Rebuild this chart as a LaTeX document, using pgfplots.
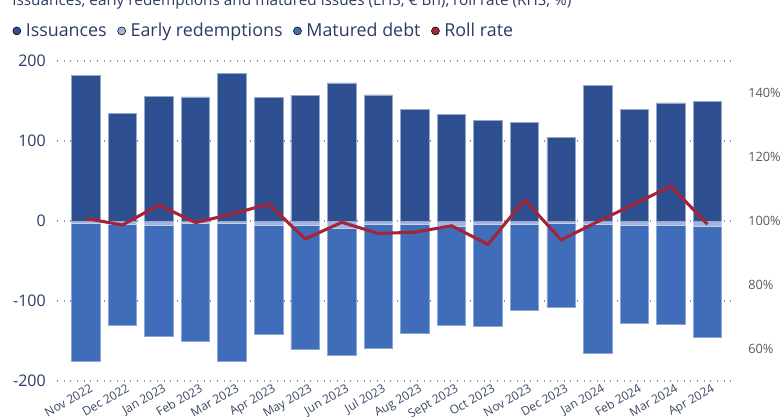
\documentclass[border=0pt]{standalone}
\usepackage{pgfplots}
\pgfplotsset{compat=1.18}
\usepackage{pgfplotstable}
\usepackage{fontspec}
\setmainfont{Open Sans}
\definecolor{issc}{HTML}{2E5090}
\definecolor{matc}{HTML}{3F6DBA}
\definecolor{earc}{HTML}{A3B3DF}
\definecolor{rollc}{HTML}{A52437}
\definecolor{gridc}{HTML}{8391BC}
\definecolor{navy}{HTML}{2B3A67}
\definecolor{xlab}{HTML}{3B4766}
\definecolor{rlab}{HTML}{5A5A5A}
\pgfplotstableread{
x iss early mat roll
0 181.6 -3 -172 100.8
1 134 -4 -127 98.75
2 156 -5 -139 105.0
3 155 -3 -148 99.5
4 184 -3 -172 102.2
5 154 -5 -137 105.3
6 157 -6 -155 94.4
7 172.5 -9 -159 99.6
8 157.5 -4 -155 96.1
9 139 -4 -136 96.5
10 133 -7 -124 98.5
11 126 -4 -128 92.7
12 123 -4 -108 106.6
13 104.6 -3 -105 94.1
14 169.6 -4 -161 99.8
15 139 -5 -123 105.3
16 147.5 -5 -124 110.9
17 149 -7 -139 99.0
}\data
\begin{document}
\begin{tikzpicture}
\begin{axis}[
  scale only axis, width=507pt, height=240pt,
  xmin=-0.79, xmax=17.7, ymin=-200, ymax=200,
  axis line style={draw=none}, major tick length=0pt,
  ytick={-200,-100,0,100,200}, yticklabels={-200,-100,0,100,200},
  yticklabel pos=left,
  yticklabel style={font=\fontsize{12}{14}\selectfont, text=navy, inner sep=0pt, anchor=east, xshift=-8.25pt},
  ymajorgrids, grid style={gridc, line width=0.8pt, dash pattern=on 0.8pt off 4.2pt},
  xtick={0,...,17},
  xticklabels={Nov 2022,Dec 2022,Jan 2023,Feb 2023,Mar 2023,Apr 2023,May 2023,Jun 2023,Jul 2023,Aug 2023,Sept 2023,Oct 2023,Nov 2023,Dec 2023,Jan 2024,Feb 2024,Mar 2024,Apr 2024},
  xticklabel pos=bottom,
  xticklabel style={font=\fontsize{9}{11}\selectfont, text=xlab, rotate=30, anchor=north east, inner sep=0pt, yshift=-2.5pt, xshift=1.5pt},
  ybar, bar width=0.78, bar shift=0pt,
  legend image code/.code={\fill[#1] (0pt,0pt) circle (3pt);},
  legend style={at={(axis description cs:-0.072,1.094)}, anchor=west, draw=none, fill=none,
    font=\fontsize{13.4}{16}\selectfont, text=navy, legend columns=-1,
    /tikz/every odd column/.append style={column sep=1.5pt},
    /tikz/every even column/.append style={column sep=6pt}},
  legend cell align=left,
]
\addplot[forget plot, fill=matc, draw=matc!60!white, line width=0.6pt] table[x=x, y expr=\thisrow{early}+\thisrow{mat}]{\data};
\addplot[forget plot, fill=earc, draw=earc!60!white, line width=0.6pt] table[x=x, y=early]{\data};
\addplot[forget plot, fill=issc, draw=issc!50!white, line width=0.6pt] table[x=x, y=iss]{\data};
\addlegendimage{fill=issc}\addlegendentry{Issuances}
\addlegendimage{fill=earc}\addlegendentry{Early redemptions}
\addlegendimage{fill=matc}\addlegendentry{Matured debt}
\addlegendimage{fill=rollc}\addlegendentry{Roll rate}
\end{axis}
\begin{axis}[
  scale only axis, width=507pt, height=240pt,
  xmin=-0.79, xmax=17.7, ymin=50, ymax=150,
  axis line style={draw=none}, major tick length=0pt,
  xtick=\empty,
  ytick={60,80,100,120,140}, yticklabels={60\%,80\%,100\%,120\%,140\%},
  yticklabel pos=right,
  yticklabel style={font=\fontsize{9.6}{12}\selectfont, text=rlab, inner sep=0pt, anchor=west, xshift=11.25pt},
]
\addplot[color=rollc, line width=2.3pt, mark=none] table[x=x, y=roll]{\data};
\end{axis}
\node[anchor=base west, font=\fontsize{11.5}{13}\selectfont, text=navy, inner sep=0pt] at (-33.75pt,281.8pt) {Issuances, early redemptions and matured issues (LHS, € Bn), roll rate (RHS, \%)};
\pgfresetboundingbox
\path[use as bounding box] (-42.75pt,-27pt) rectangle (543pt,285.75pt);
\end{tikzpicture}
\end{document}
